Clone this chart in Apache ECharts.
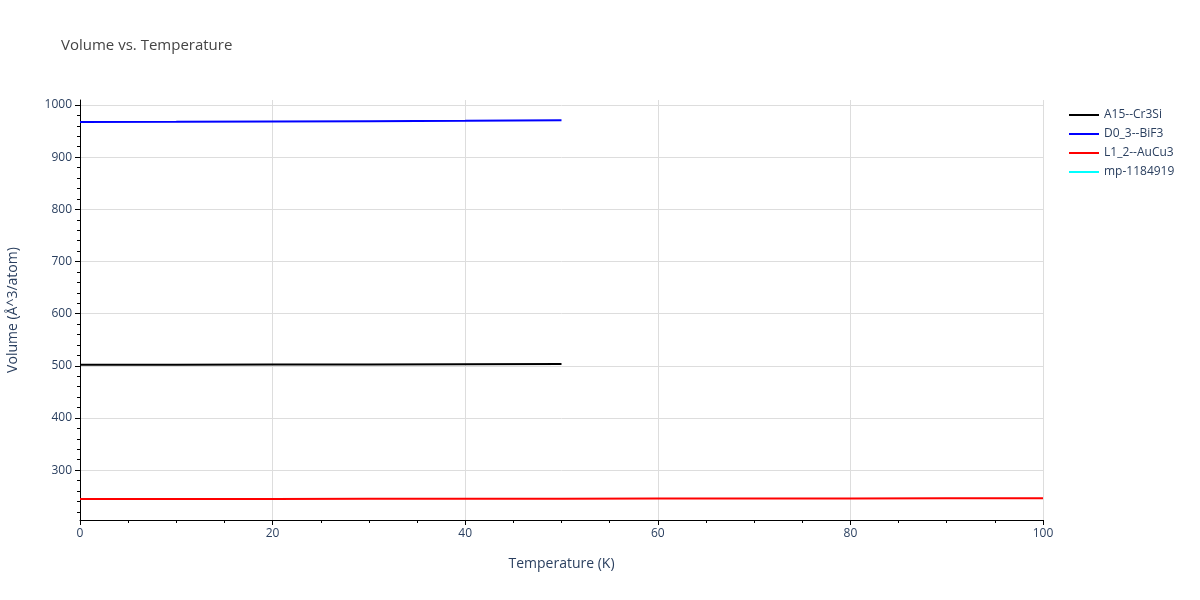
<!DOCTYPE html>
<html><head><meta charset="utf-8">
<script src="https://cdn.jsdelivr.net/npm/echarts@6/dist/echarts.min.js"></script>
<style>html,body{margin:0;padding:0;background:#fff}#c{width:1200px;height:600px}</style>
</head><body><div id="c"></div>
<script>
const seriesNames = ['A15--Cr3Si', 'D0_3--BiF3', 'L1_2--AuCu3', 'mp-1184919'];
const seriesColors = ['#000000', '#0000ff', '#ff0000', '#00ffff'];
const tempsShort = [0, 10, 20, 30, 40, 50];
const tempsLong = [0, 10, 20, 30, 40, 50, 60, 70, 80, 90, 100];
const volA15 = [501.8, 502.0, 502.3, 502.6, 503.0, 503.4];
const volD03 = [967.4, 967.8, 968.4, 969.1, 969.9, 970.8];
const volL12 = [244.5, 244.6, 244.7, 244.9, 245.0, 245.2, 245.4, 245.6, 245.8, 246.0, 246.3];
const volMp = [];
const yMajorTicks = [300, 400, 500, 600, 700, 800, 900, 1000];
const yMinorTicks = [220, 240, 260, 280, 320, 340, 360, 380, 420, 440, 460, 480, 520, 540, 560, 580, 620, 640, 660, 680, 720, 740, 760, 780, 820, 840, 860, 880, 920, 940, 960, 980];
const Y_MIN = 204.4, Y_MAX = 1009.6;

const pair = (xs, ys) => ys.map((v, i) => [xs[i], v]);
const dataSets = [pair(tempsShort, volA15), pair(tempsShort, volD03), pair(tempsLong, volL12), volMp];

const font = '"Open Sans", "Liberation Sans", sans-serif';
const chart = echarts.init(document.getElementById('c'));
chart.setOption({
  animation: false,
  title: { text: 'Volume vs. Temperature', left: 56, top: 33, textStyle: { fontFamily: font, fontSize: 15, fontWeight: 'normal', color: '#444' } },
  legend: {
    orient: 'vertical', left: 1064, top: 104, itemWidth: 30, itemHeight: 2, itemGap: 7,
    icon: 'rect',
    textStyle: { fontFamily: font, fontSize: 12, color: '#2a3f5f' },
    data: seriesNames
  },
  grid: { left: 80, right: 157, top: 100, bottom: 80, containLabel: false, outerBoundsMode: 'none' },
  xAxis: {
    type: 'value', min: 0, max: 100, interval: 20,
    name: 'Temperature (K)', nameLocation: 'middle', nameGap: 37,
    nameTextStyle: { fontFamily: font, fontSize: 14, color: '#2a3f5f' },
    axisLine: { show: true, onZero: false, lineStyle: { color: '#000', width: 1 } },
    axisTick: { show: true, length: 5, lineStyle: { color: '#000' } },
    minorTick: { show: true, splitNumber: 4, length: 3, lineStyle: { color: '#000' } },
    axisLabel: { fontFamily: font, fontSize: 12, color: '#2a3f5f', margin: 8 },
    splitLine: { show: true, lineStyle: { color: '#dddddd' } }
  },
  yAxis: [{
    type: 'value', min: Y_MIN, max: Y_MAX,
    name: 'Volume (Å^3/atom)', nameLocation: 'middle', nameGap: 60,
    nameTextStyle: { fontFamily: font, fontSize: 14, color: '#2a3f5f' },
    axisLine: { show: true, onZero: false, lineStyle: { color: '#000', width: 1 } },
    axisTick: { show: true, length: 5, customValues: yMajorTicks, lineStyle: { color: '#000' } },
    axisLabel: { fontFamily: font, fontSize: 12, color: '#2a3f5f', margin: 8, customValues: yMajorTicks, formatter: v => String(v) },
    splitLine: { show: true, lineStyle: { color: '#dddddd' } }
  }, {
    type: 'value', min: Y_MIN, max: Y_MAX, position: 'left',
    axisLine: { show: false },
    axisTick: { show: true, length: 3, customValues: yMinorTicks, lineStyle: { color: '#000' } },
    axisLabel: { show: false, customValues: yMinorTicks },
    splitLine: { show: false }
  }],
  series: seriesNames.map((n, i) => ({
    name: n, type: 'line', data: dataSets[i], showSymbol: false, symbol: 'none',
    lineStyle: { color: seriesColors[i], width: 2 }, itemStyle: { color: seriesColors[i] }
  }))
});
</script></body></html>
